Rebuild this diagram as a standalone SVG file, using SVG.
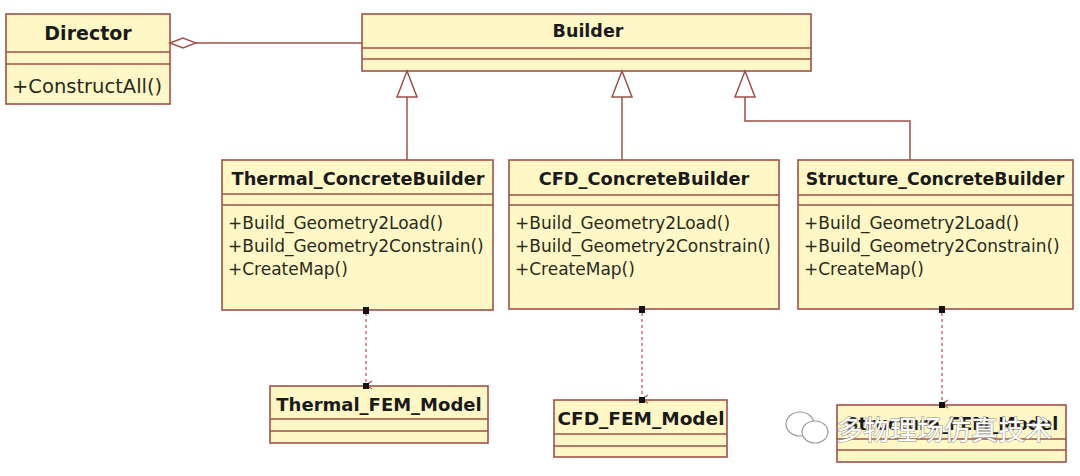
<svg xmlns="http://www.w3.org/2000/svg" width="1080" height="476" viewBox="0 0 1080 476">
<defs>
<style>
.box{fill:#fff8c6;stroke:#a0504a;stroke-width:1.6}
.sep{stroke:#a0504a;stroke-width:1.3}
.t{font-family:"DejaVu Sans",Verdana,sans-serif;font-weight:bold;fill:#1a1a1a}
.m{font-family:"DejaVu Sans",Verdana,sans-serif;font-size:17px;fill:#2a2a1a}
.ln{fill:none;stroke:#a0504a;stroke-width:1.5}
.dash{fill:none;stroke:#c05a5a;stroke-width:1.3;stroke-dasharray:3 3}
.tri{fill:#ffffff;stroke:#a0504a;stroke-width:1.5}
.sq{fill:#111}
</style>
<marker id="open" viewBox="0 0 10 10" refX="5" refY="9" markerWidth="10" markerHeight="10" orient="auto" markerUnits="userSpaceOnUse">
<path d="M1,3 L5,9 L9,3" fill="none" stroke="#c05a5a" stroke-width="1.4"/>
</marker>
</defs>
<rect width="1080" height="476" fill="#ffffff"/>

<g id="director">
<rect class="box" x="6" y="14" width="164" height="90"/>
<line class="sep" x1="6" y1="52" x2="170" y2="52"/>
<line class="sep" x1="6" y1="64" x2="170" y2="64"/>
<text class="t" x="88" y="40" font-size="19" text-anchor="middle">Director</text>
<text class="m" x="12" y="93" style="font-size:19.5px">+ConstructAll()</text>
</g>

<g id="builder">
<rect class="box" x="362" y="14" width="449" height="57"/>
<line class="sep" x1="362" y1="48" x2="811" y2="48"/>
<line class="sep" x1="362" y1="59" x2="811" y2="59"/>
<text class="t" x="588" y="37" font-size="17.5" text-anchor="middle">Builder</text>
</g>

<g id="thermal-builder">
<rect class="box" x="222" y="160" width="271" height="150"/>
<line class="sep" x1="222" y1="194" x2="493" y2="194"/>
<line class="sep" x1="222" y1="205" x2="493" y2="205"/>
<text class="t" x="358" y="185" font-size="17.8" text-anchor="middle">Thermal_ConcreteBuilder</text>
<text class="m" x="228" y="229">+Build_Geometry2Load()</text>
<text class="m" x="228" y="252">+Build_Geometry2Constrain()</text>
<text class="m" x="228" y="275">+CreateMap()</text>
</g>

<g id="cfd-builder">
<rect class="box" x="509" y="160" width="270" height="149"/>
<line class="sep" x1="509" y1="195" x2="779" y2="195"/>
<line class="sep" x1="509" y1="205" x2="779" y2="205"/>
<text class="t" x="644" y="185" font-size="17.8" text-anchor="middle">CFD_ConcreteBuilder</text>
<text class="m" x="515" y="229">+Build_Geometry2Load()</text>
<text class="m" x="515" y="252">+Build_Geometry2Constrain()</text>
<text class="m" x="515" y="275">+CreateMap()</text>
</g>

<g id="structure-builder">
<rect class="box" x="798" y="160" width="275" height="149"/>
<line class="sep" x1="798" y1="195" x2="1073" y2="195"/>
<line class="sep" x1="798" y1="205" x2="1073" y2="205"/>
<text class="t" x="935" y="185" font-size="17.3" text-anchor="middle">Structure_ConcreteBuilder</text>
<text class="m" x="804" y="229">+Build_Geometry2Load()</text>
<text class="m" x="804" y="252">+Build_Geometry2Constrain()</text>
<text class="m" x="804" y="275">+CreateMap()</text>
</g>

<g id="thermal-model">
<rect class="box" x="270" y="386" width="218" height="57"/>
<line class="sep" x1="270" y1="419" x2="488" y2="419"/>
<line class="sep" x1="270" y1="431" x2="488" y2="431"/>
<text class="t" x="379" y="411" font-size="18" text-anchor="middle">Thermal_FEM_Model</text>
</g>

<g id="cfd-model">
<rect class="box" x="554" y="400" width="173" height="57"/>
<line class="sep" x1="554" y1="434" x2="727" y2="434"/>
<line class="sep" x1="554" y1="446" x2="727" y2="446"/>
<text class="t" x="641" y="425" font-size="18.5" text-anchor="middle">CFD_FEM_Model</text>
</g>

<g id="structure-model">
<rect class="box" x="837" y="405" width="229" height="57"/>
<line class="sep" x1="837" y1="439" x2="1066" y2="439"/>
<line class="sep" x1="837" y1="450" x2="1066" y2="450"/>
<text class="t" x="952" y="430" font-size="17.5" text-anchor="middle">Structure_FEM_Model</text>
</g>

<g id="connectors">
<path class="ln" d="M196,43 H362"/>
<path class="tri" d="M170,43 L183,38 L196,43 L183,48 Z"/>
<path class="ln" d="M407,97 V160"/>
<path class="tri" d="M407,71 L417,97 L397,97 Z"/>
<path class="ln" d="M622,97 V160"/>
<path class="tri" d="M622,71 L632,97 L612,97 Z"/>
<path class="ln" d="M745,97 V121 H910 V160"/>
<path class="tri" d="M745,71 L755,97 L735,97 Z"/>
<path class="dash" d="M366,313 V385" marker-end="url(#open)"/>
<path class="dash" d="M642,313 V399" marker-end="url(#open)"/>
<path class="dash" d="M942,313 V404" marker-end="url(#open)"/>
<rect class="sq" x="363" y="307" width="6" height="7"/>
<rect class="sq" x="639" y="306" width="6" height="7"/>
<rect class="sq" x="939" y="306" width="6" height="7"/>
<rect class="sq" x="363" y="383" width="6" height="6"/>
<rect class="sq" x="639" y="397" width="6" height="6"/>
<rect class="sq" x="939" y="402" width="6" height="6"/>
</g>

<g id="watermark">
<ellipse cx="800" cy="424" rx="14" ry="12" fill="#ffffff" stroke="#9a9a9a" stroke-width="1.2"/>
<ellipse cx="815" cy="432" rx="13" ry="11" fill="#ffffff" stroke="#9a9a9a" stroke-width="1.2"/>
<text x="836" y="440" font-family="'Noto Sans CJK SC',sans-serif" font-size="27" fill="#ffffff" stroke="#8a8a8a" stroke-width="1" style="paint-order:stroke">多物理场仿真技术</text>
</g>
</svg>
